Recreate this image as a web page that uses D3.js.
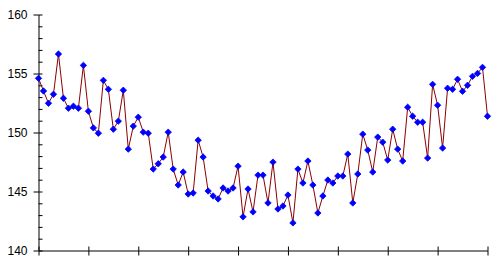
<!DOCTYPE html>
<html><head><meta charset="utf-8">
<script src="https://cdn.jsdelivr.net/npm/d3@7"></script>
<style>body{margin:0;background:#fff}svg{display:block}</style>
</head><body>
<script>
const values = [154.59,153.52,152.48,153.24,156.65,152.90,152.06,152.23,152.06,155.69,
151.80,150.39,149.94,154.42,153.66,150.28,150.96,153.58,148.59,150.54,
151.30,150.03,149.94,146.90,147.35,147.92,150.03,146.90,145.55,146.65,
144.79,144.87,149.35,147.92,145.04,144.62,144.37,145.30,145.04,145.30,
147.15,142.85,145.21,143.27,146.39,146.39,144.03,147.49,143.52,143.77,
144.70,142.34,146.90,145.72,147.58,145.55,143.18,144.62,145.97,145.72,
146.31,146.31,148.17,144.03,146.48,149.86,148.51,146.65,149.61,149.18,
147.66,150.28,148.59,147.58,152.14,151.38,150.87,150.87,147.83,154.08,
152.31,148.68,153.75,153.66,154.51,153.49,154.00,154.76,155.01,155.52,151.38];
const yTicks = [140,145,150,155,160];
const xTicks = [0,10,20,30,40,50,60,70,80,90];

const W=501,H=270;
const svg=d3.select("body").append("svg").attr("width",W).attr("height",H);
const x=d3.scaleLinear().domain([0,90]).range([38.5,487.5]);
const y=d3.scaleLinear().domain([140,160]).range([250.5,14.5]);

// y axis
const gy=svg.append("g").attr("transform","translate(38.5,0)");
gy.call(d3.axisLeft(y).tickValues(yTicks).tickSizeInner(5).tickSizeOuter(0).tickPadding(6).tickFormat(d3.format("d")));
gy.selectAll("text").attr("font-family","Liberation Sans, Arial, sans-serif").attr("font-size","12px").attr("fill","#000");
const gy2=svg.append("g").attr("transform","translate(38.5,0)");
gy2.call(d3.axisRight(y).tickValues(d3.range(140,161,1)).tickSizeInner(4).tickSizeOuter(0).tickFormat(""));
gy2.select(".domain").remove();

// x axis
const gx=svg.append("g").attr("transform","translate(0,250.5)");
gx.call(d3.axisBottom(x).tickValues(xTicks).tickSizeInner(5).tickSizeOuter(0).tickFormat(""));
const gx2=svg.append("g").attr("transform","translate(0,250.5)");
gx2.call(d3.axisTop(x).tickValues(xTicks).tickSizeInner(4).tickSizeOuter(0).tickFormat(""));
gx2.select(".domain").remove();
svg.selectAll(".domain,.tick line").attr("stroke","#000").attr("stroke-width",1);

// line
svg.append("path").datum(values)
  .attr("d",d3.line().x((d,i)=>x(i)).y(d=>y(d)))
  .attr("fill","none").attr("stroke","#8b0000").attr("stroke-width",1);

// markers
const dia = "M0,-3.2L3.2,0L0,3.2L-3.2,0Z";
svg.append("g").selectAll("path").data(values).join("path")
  .attr("transform",(d,i)=>`translate(${x(i)},${y(d)})`)
  .attr("d",dia).attr("fill","#0000ff").attr("stroke","#0000ff").attr("stroke-width",0.8);
</script>
</body></html>
